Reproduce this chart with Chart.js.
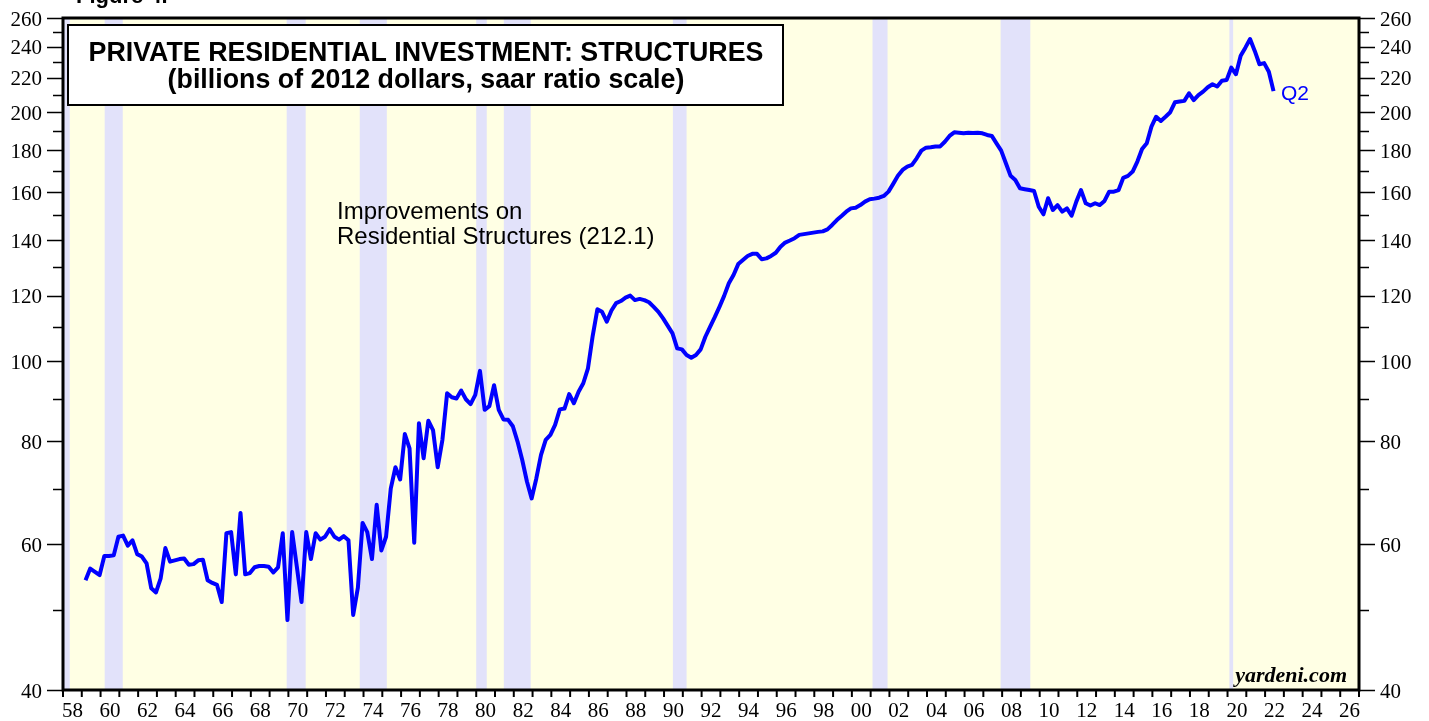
<!DOCTYPE html>
<html>
<head>
<meta charset="utf-8">
<script src="https://cdn.jsdelivr.net/npm/chart.js@4"></script>
<style>
  html, body { margin: 0; padding: 0; background: #fff; }
  #wrap { width: 1429px; height: 721px; }
</style>
</head>
<body>
<div id="wrap"><canvas id="chart" width="1429" height="721"></canvas></div>
<script>
// Improvements on residential structures, quarterly, 1959Q1 .. 2022Q2 (billions of 2012 $, saar)
const firstYear = 1959;
const structures = [
  54.3, 56.1, 55.6, 55.1,   58.1, 58.1, 58.2, 61.3,   61.5, 59.8, 60.7, 58.4,   // 59-61
  58.0, 56.9, 53.1, 52.5,   54.6, 59.4, 57.2, 57.4,   57.6, 57.7, 56.7, 56.8,   // 62-64
  57.4, 57.5, 54.3, 53.9,   53.6, 51.1, 61.9, 62.1,   55.2, 65.5, 55.2, 55.4,   // 65-67
  56.3, 56.5, 56.5, 56.4,   55.5, 56.3, 61.9, 48.6,   62.1, 56.4, 51.1, 62.1,   // 68-70
  57.6, 61.9, 60.8, 61.3,   62.6, 61.3, 60.8, 61.4,   60.7, 49.3, 53.2, 63.7,   // 71-73
  62.1, 57.6, 67.0, 59.0,   61.3, 70.1, 74.4, 71.9,   81.6, 78.4, 60.3, 84.1,   // 74-76
  76.3, 84.7, 82.5, 74.4,   80.3, 91.4, 90.4, 90.1,   92.1, 89.9, 88.7, 91.0,   // 77-79
  97.3, 87.3, 88.2, 93.5,   87.3, 85.0, 84.9, 83.4,   79.9, 75.9, 71.5, 68.2,   // 80-82
  72.1, 77.0, 80.3, 81.4,   83.7, 87.4, 87.6, 91.2,   88.9, 91.8, 94.0, 98.0,   // 83-85
  107.2, 115.5, 114.7, 111.6,  115.1, 117.5, 118.2, 119.3,  120.0, 118.5, 118.9, 118.5, // 86-88
  117.8, 116.3, 114.7, 112.6,  110.3, 108.0, 103.6, 103.3,  101.7, 100.9, 101.7, 103.3, // 89-91
  107.0, 110.0, 113.0, 116.3,  119.9, 124.2, 127.1, 131.0,  132.5, 134.0, 134.8, 134.8, // 92-94
  132.8, 133.1, 134.0, 135.2,  137.5, 139.1, 139.9, 140.8,  142.1, 142.4, 142.7, 143.0, // 95-97
  143.3, 143.5, 144.3, 146.1,  148.1, 149.8, 151.6, 153.0,  153.3, 154.4, 155.9, 156.9, // 98-00
  157.2, 157.6, 158.4, 160.3,  163.8, 167.5, 170.3, 171.9,  172.7, 175.9, 179.7, 181.2, // 01-03
  181.4, 181.8, 181.8, 184.2,  187.2, 189.1, 188.9, 188.6,  188.9, 188.7, 188.9, 188.6, // 04-06
  187.7, 187.2, 183.4, 179.7,  173.5, 167.5, 165.6, 161.8,  161.4, 161.0, 160.6, 153.7, // 07-09
  150.5, 157.4, 152.3, 154.4,  151.6, 153.0, 149.9, 155.9,  161.0, 155.2, 154.2, 155.2, // 10-12
  154.4, 156.2, 160.3, 160.3,  161.0, 166.6, 167.5, 169.5,  174.3, 180.5, 183.4, 192.1, // 13-15
  197.5, 195.2, 197.5, 200.0,  205.6, 206.0, 206.4, 210.8,  206.9, 209.8, 211.8, 214.4, // 16-18
  216.2, 214.8, 218.3, 218.7,  226.4, 222.3, 234.1, 239.4,  245.2, 237.2, 228.6, 229.3, // 19-21
  223.9, 212.1                                                                          // 22
];

// NBER recessions (decimal years)
const recessionStart = [1957.6, 1960.22, 1969.91, 1973.8, 1980.0, 1981.47, 1990.47, 2001.1, 2007.92, 2020.1];
const recessionEnd   = [1958.36, 1961.18, 1970.92, 1975.24, 1980.56, 1982.9, 1991.2, 2001.9, 2009.5, 2020.3];

const yTicks  = [40, 50, 60, 70, 80, 90, 100, 110, 120, 130, 140, 150, 160, 170, 180, 190, 200, 210, 220, 230, 240, 250, 260];
const yLabels = [40, 60, 80, 100, 120, 140, 160, 180, 200, 220, 240, 260];
const xLabelYears = [];
for (let y = 1958; y <= 2026; y += 2) xLabelYears.push(y);

const points = structures.map((v, i) => ({
  x: firstYear + Math.floor(i / 4) + (i % 4) * 0.25 + 0.2,
  y: v
}));

const serif = 'Liberation Serif, "Times New Roman", serif';
const sans = 'Liberation Sans, Arial, Helvetica, sans-serif';

const decorPlugin = {
  id: 'decor',
  beforeDraw(chart) {
    const { ctx, chartArea: a, scales } = chart;
    ctx.save();
    ctx.fillStyle = '#ffffff';
    ctx.fillRect(0, 0, chart.width, chart.height);
    ctx.fillStyle = 'rgb(255,255,228)';
    ctx.fillRect(a.left, a.top, a.right - a.left, a.bottom - a.top);
    ctx.fillStyle = 'rgb(226,226,250)';
    recessionStart.forEach((s, i) => {
      const x0 = Math.max(a.left, scales.x.getPixelForValue(s));
      const x1 = scales.x.getPixelForValue(recessionEnd[i]);
      if (x1 > x0) ctx.fillRect(x0, a.top, x1 - x0, a.bottom - a.top);
    });
    ctx.restore();
  },
  afterDraw(chart) {
    const { ctx, chartArea: a, scales } = chart;
    ctx.save();

    // frame
    ctx.strokeStyle = '#000';
    ctx.lineWidth = 3;
    ctx.strokeRect(a.left, a.top, a.right - a.left, a.bottom - a.top);

    // y ticks both sides
    ctx.lineWidth = 1.5;
    yTicks.forEach(v => {
      const y = Math.round(scales.y.getPixelForValue(v)) + 0.5;
      const len = v % 20 === 0 ? 16 : 10;
      ctx.beginPath();
      ctx.moveTo(a.left - len, y); ctx.lineTo(a.left, y);
      ctx.moveTo(a.right, y); ctx.lineTo(a.right + len, y);
      ctx.stroke();
    });

    // x ticks every year
    ctx.lineWidth = 2;
    for (let yr = 1958; yr <= 2027; yr++) {
      const x = scales.x.getPixelForValue(yr);
      ctx.beginPath();
      ctx.moveTo(x, a.bottom); ctx.lineTo(x, a.bottom + 7);
      ctx.stroke();
    }

    // title box
    ctx.fillStyle = '#fff';
    ctx.fillRect(68, 25, 715, 80);
    ctx.lineWidth = 2;
    ctx.strokeRect(68, 25, 715, 80);
    ctx.fillStyle = '#000';
    ctx.textAlign = 'center';
    ctx.textBaseline = 'alphabetic';
    ctx.font = 'bold 26.8px ' + sans;
    ctx.fillText('PRIVATE RESIDENTIAL INVESTMENT: STRUCTURES', 426, 61);
    ctx.fillText('(billions of 2012 dollars, saar ratio scale)', 426, 88);

    // figure label (cut at top)
    ctx.textAlign = 'left';
    ctx.font = 'bold 22px ' + sans;
    ctx.fillText('Figure 4.', 76, 3);

    // annotation
    ctx.font = '24px ' + sans;
    ctx.fillText('Improvements on', 337, 219);
    ctx.fillText('Residential Structures (212.1)', 337, 244);

    // last point label
    ctx.fillStyle = '#0000ff';
    ctx.font = '21px ' + sans;
    ctx.fillText('Q2', 1281, 100);

    // source
    ctx.fillStyle = '#000';
    ctx.textAlign = 'right';
    ctx.font = 'italic bold 22px ' + serif;
    ctx.fillText('yardeni.com', 1347, 682);

    ctx.restore();
  }
};

function yAxis(position, width) {
  return {
    type: 'logarithmic',
    position: position,
    min: 40,
    max: 260,
    grid: { display: false, drawTicks: false },
    border: { display: false },
    afterBuildTicks: s => { s.ticks = yLabels.map(v => ({ value: v })); },
    afterFit: s => { s.width = width; s.paddingTop = 0; s.paddingBottom = 0; },
    ticks: {
      autoSkip: false,
      color: '#000',
      padding: 21,
      labelOffset: 2,
      font: { family: serif, size: 21 },
      callback: v => String(v)
    }
  };
}

new Chart(document.getElementById('chart'), {
  type: 'line',
  data: {
    datasets: [{
      label: 'Improvements on Residential Structures',
      data: points,
      borderColor: '#0000ff',
      borderWidth: 4,
      pointRadius: 0,
      tension: 0,
      borderJoinStyle: 'round',
      borderCapStyle: 'butt',
      yAxisID: 'y'
    }]
  },
  options: {
    responsive: false,
    animation: false,
    devicePixelRatio: 1,
    layout: { padding: { top: 18, left: 0, right: 0, bottom: 0 } },
    plugins: { legend: { display: false }, tooltip: { enabled: false } },
    scales: {
      x: {
        type: 'linear',
        min: 1958,
        max: 2027,
        grid: { display: false, drawTicks: false },
        border: { display: false },
        afterBuildTicks: s => { s.ticks = xLabelYears.map(v => ({ value: v + 0.5 })); },
        afterFit: s => { s.height = 31; s.paddingLeft = 0; s.paddingRight = 0; },
        ticks: {
          autoSkip: false,
          maxRotation: 0,
          color: '#000',
          padding: 9,
          font: { family: serif, size: 21 },
          callback: v => String(Math.floor(v) % 100).padStart(2, '0')
        }
      },
      y: yAxis('left', 63),
      y2: yAxis('right', 70)
    }
  },
  plugins: [decorPlugin]
});
</script>
</body>
</html>
